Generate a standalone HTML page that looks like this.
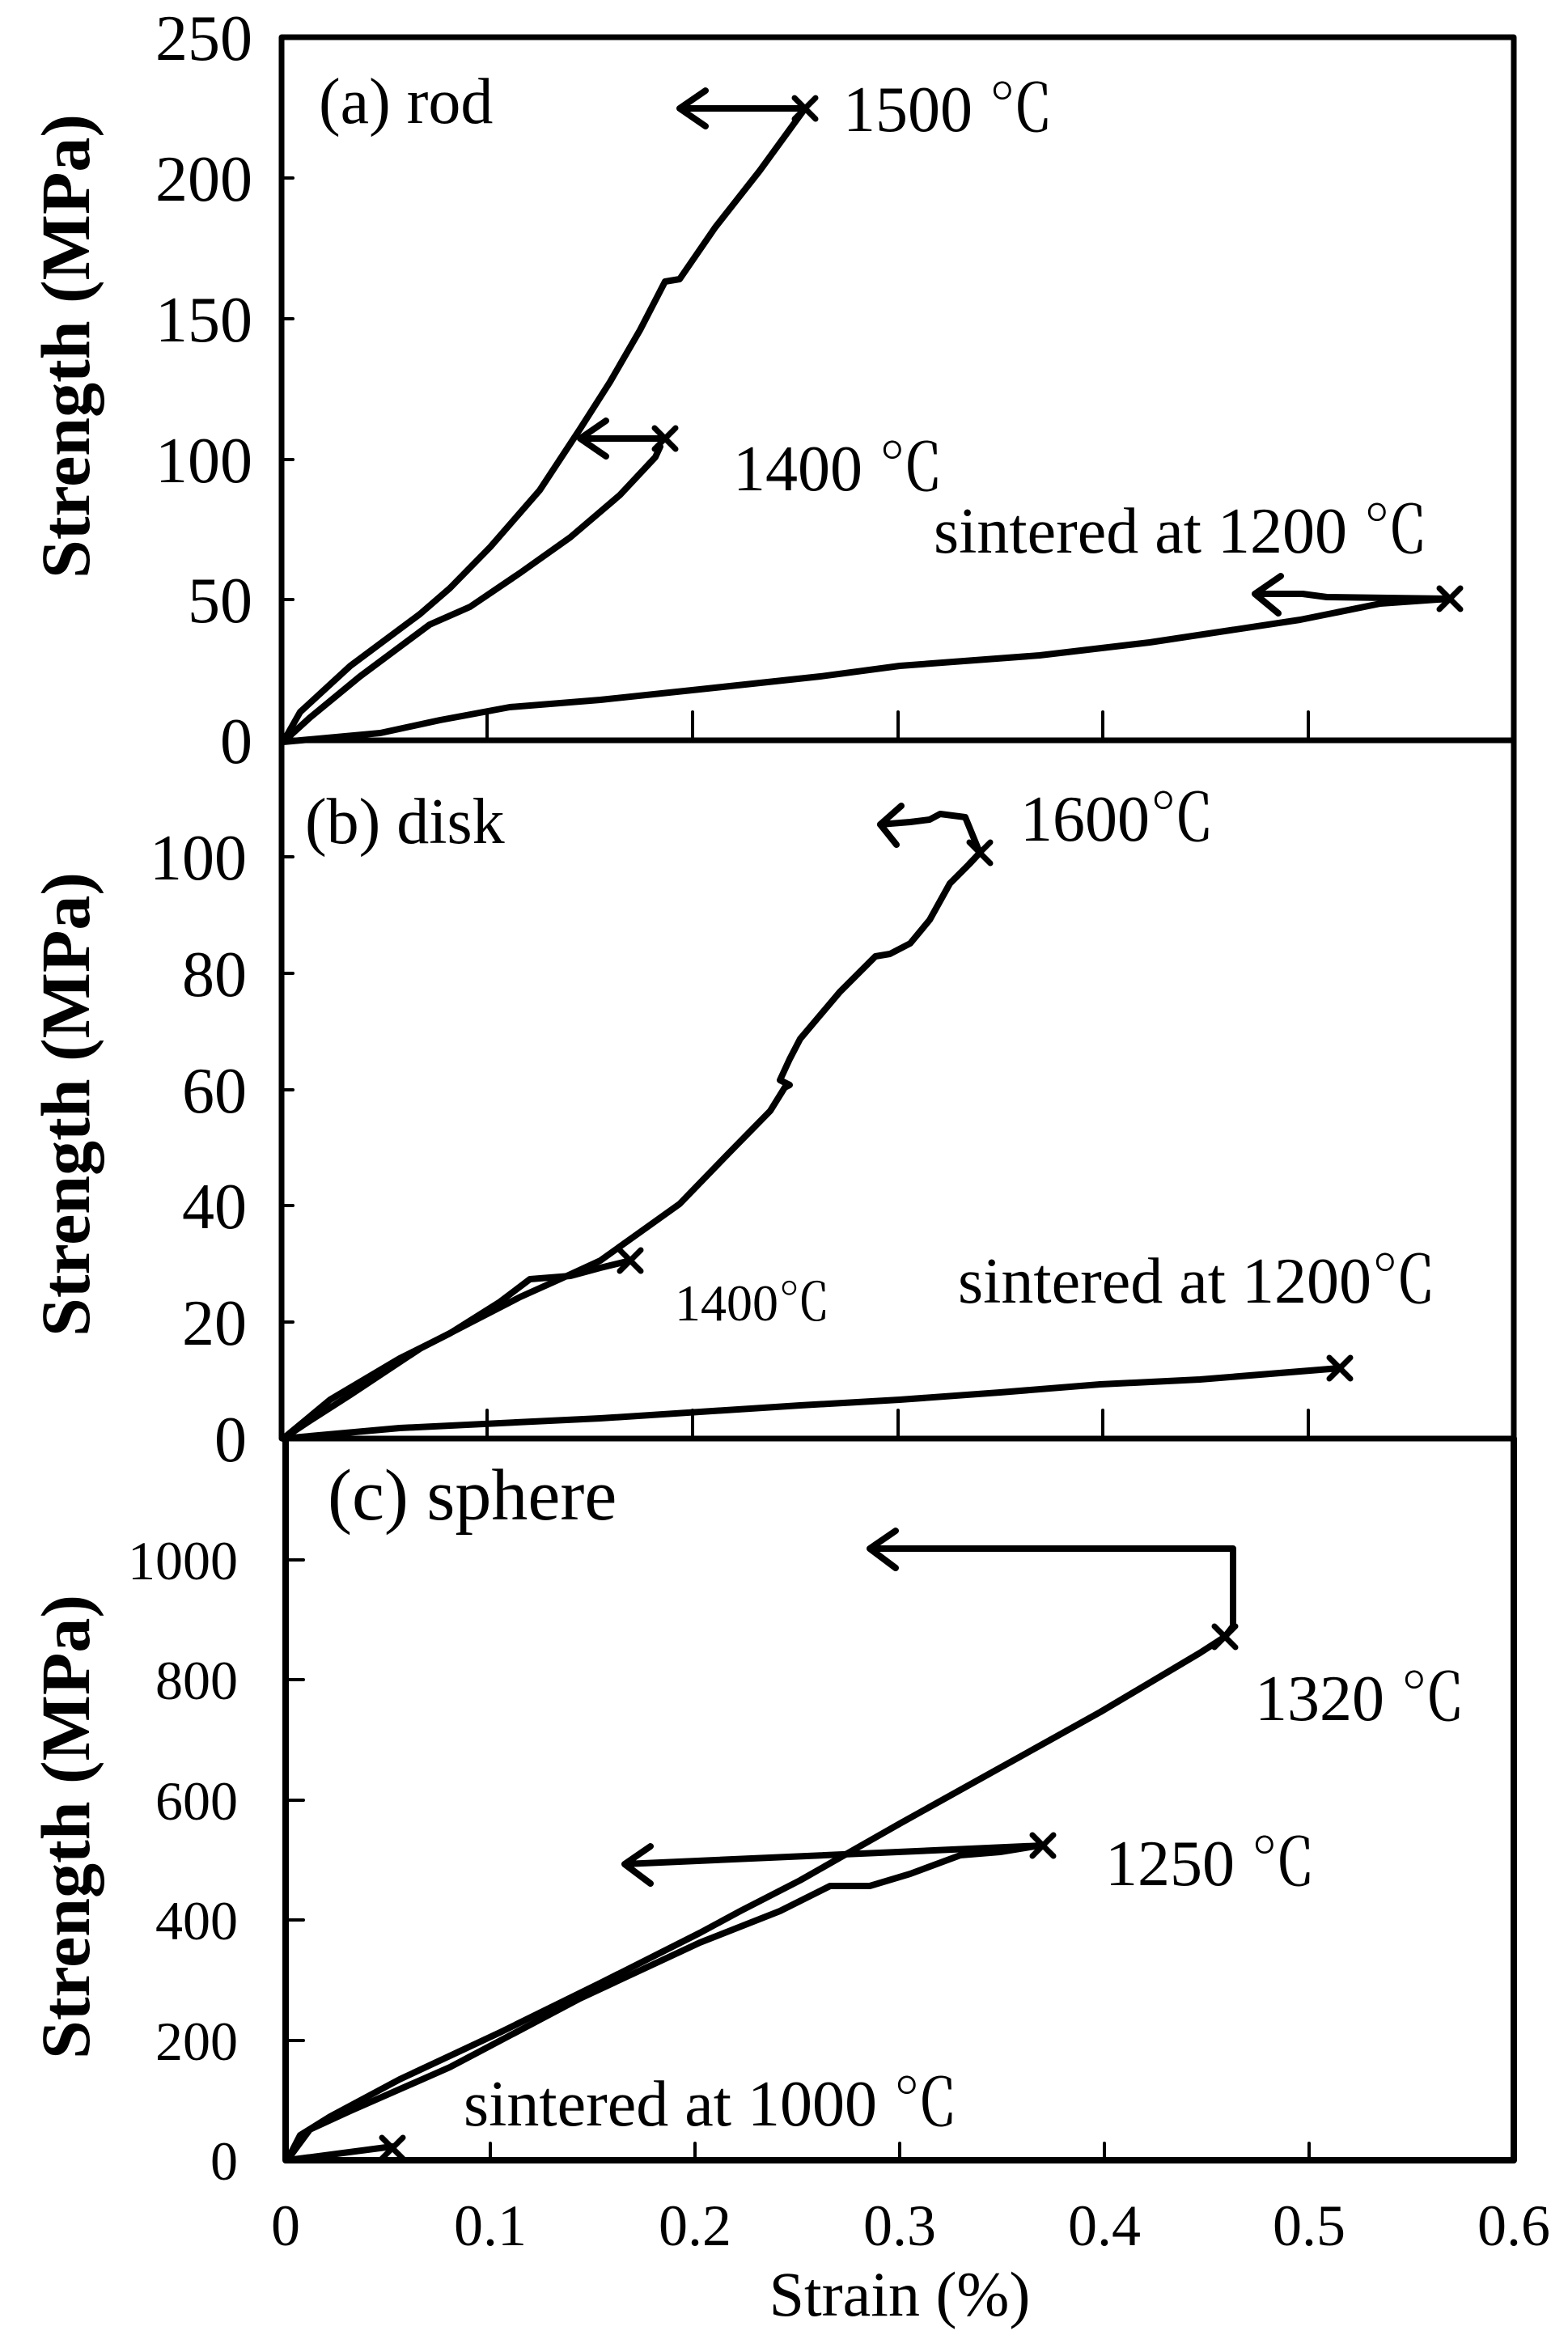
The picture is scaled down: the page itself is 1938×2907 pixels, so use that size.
<!DOCTYPE html>
<html><head><meta charset="utf-8"><style>
html,body{margin:0;padding:0;background:#fff}
svg{display:block}
text{font-family:"Liberation Serif","Noto Serif CJK SC",serif;fill:#000}
.t{font-size:80px}
.yl{font-size:80px;text-anchor:end}
.yc{font-size:68px;text-anchor:end}
.xl{font-size:72px;text-anchor:middle}
.yt{font-size:86px;font-weight:bold;text-anchor:middle}
</style></head><body>
<svg width="1938" height="2907" viewBox="0 0 1938 2907" xmlns="http://www.w3.org/2000/svg">
<g fill="none" stroke="#000" stroke-linejoin="round" stroke-linecap="round">
<rect x="348" y="46" width="1523" height="869" stroke-width="7"/>
<rect x="348" y="915" width="1523" height="863" stroke-width="7"/>
<path d="M353 1778 V2670 H1871 V1778" stroke-width="8"/>
<path d="M348 220H362M348 394H362M348 568H362M348 741H362 M602 915V880M856 915V880M1110 915V880M1363 915V880M1617 915V880" stroke-width="4"/>
<path d="M348 1059H362M348 1203H362M348 1347H362M348 1490H362M348 1634H362 M602 1778V1743M856 1778V1743M1110 1778V1743M1363 1778V1743M1617 1778V1743" stroke-width="4"/>
<path d="M353 1928H375M353 2076H375M353 2225H375M353 2373H375M353 2522H375 M606 2670V2649M859 2670V2649M1112 2670V2649M1365 2670V2649M1618 2670V2649" stroke-width="4"/>
</g>
<g fill="none" stroke="#000" stroke-width="8" stroke-linejoin="round" stroke-linecap="round">
<polyline points="350,917 371,880 433,823 519,759 556,727 606,676 667,606 717,530 754,472 791,408 822,348 840,345 884,281 939,211 995,134"/>
<polyline points="350,917 383,887 445,836 531,772 581,750 643,708 705,664 766,612 810,565 816,552"/>
<polyline points="350,917 470,906 544,890 630,874 742,865 865,852 1014,836 1112,823 1285,810 1421,794 1607,766 1706,746 1792,740"/>
<path d="M995 134H840 M872 112L840 134L872 156"/>
<path d="M822 542H717 M749 520L717 542L749 564"/>
<path d="M1792 740L1640 738L1610 734H1551 M1583 712L1551 734L1580 758"/>
<polyline points="350,1778 383,1756 433,1724 519,1667 581,1635 643,1603 692,1581 742,1558 791,1523 840,1488 902,1424 952,1373 970,1344 976,1341 964,1335 976,1309 989,1284 1038,1226 1082,1182 1100,1179 1125,1166 1149,1137 1174,1092 1199,1067 1211,1054"/>
<polyline points="1211,1054 1193,1010 1162,1006 1149,1013 1125,1016 1088,1019"/>
<path d="M1114 996L1088 1019L1108 1044"/>
<polyline points="350,1778 408,1730 494,1679 556,1648 618,1609 655,1581 705,1577 742,1567 779,1558"/>
<polyline points="350,1778 494,1765 742,1753 989,1737 1112,1730 1236,1721 1360,1711 1483,1705 1656,1691"/>
<polyline points="355,2670 371,2639 408,2616 494,2570 618,2512 742,2451 865,2389 915,2362 989,2324 1112,2254 1236,2185 1360,2116 1483,2043 1514,2023"/>
<path d="M1514 2023L1524 2010V1914H1075 M1107 1892L1075 1914L1107 1938"/>
<polyline points="355,2670 383,2632 433,2609 556,2555 717,2470 865,2401 964,2362 1026,2331 1075,2331 1125,2316 1187,2293 1236,2289 1285,2281"/>
<path d="M1289 2281L772 2304 M804 2282L772 2304L804 2328"/>
<polyline points="355,2670 485,2653"/>
</g>
<g stroke="#000" stroke-width="7" stroke-linecap="round">
<path d="M982 121L1008 147M1008 121L982 147"/>
<path d="M809 529L835 555M835 529L809 555"/>
<path d="M1779 727L1805 753M1805 727L1779 753"/>
<path d="M1198 1041L1224 1067M1224 1041L1198 1067"/>
<path d="M766 1545L792 1571M792 1545L766 1571"/>
<path d="M1643 1678L1669 1704M1669 1678L1643 1704"/>
<path d="M1501 2010L1527 2036M1527 2010L1501 2036"/>
<path d="M1276 2268L1302 2294M1302 2268L1276 2294"/>
<path d="M472 2642L498 2668M498 2642L472 2668"/>
</g>
<text class="yl" x="312" y="74">250</text>
<text class="yl" x="312" y="248">200</text>
<text class="yl" x="312" y="422">150</text>
<text class="yl" x="312" y="596">100</text>
<text class="yl" x="312" y="769">50</text>
<text class="yl" x="312" y="943">0</text>
<text class="yl" x="305" y="1087">100</text>
<text class="yl" x="305" y="1231">80</text>
<text class="yl" x="305" y="1375">60</text>
<text class="yl" x="305" y="1518">40</text>
<text class="yl" x="305" y="1662">20</text>
<text class="yl" x="305" y="1806">0</text>
<text class="yc" x="294" y="1952">1000</text>
<text class="yc" x="294" y="2100">800</text>
<text class="yc" x="294" y="2249">600</text>
<text class="yc" x="294" y="2397">400</text>
<text class="yc" x="294" y="2546">200</text>
<text class="yc" x="294" y="2694">0</text>
<text class="xl" x="353" y="2775">0</text>
<text class="xl" x="606" y="2775">0.1</text>
<text class="xl" x="859" y="2775">0.2</text>
<text class="xl" x="1112" y="2775">0.3</text>
<text class="xl" x="1365" y="2775">0.4</text>
<text class="xl" x="1618" y="2775">0.5</text>
<text class="xl" x="1871" y="2775">0.6</text>
<text x="1112" y="2862" style="font-size:78px;text-anchor:middle">Strain (%)</text>
<text class="yt" transform="translate(110,428) rotate(-90)">Strength (MPa)</text>
<text class="yt" transform="translate(110,1365) rotate(-90)">Strength (MPa)</text>
<text class="yt" transform="translate(110,2258) rotate(-90)">Strength (MPa)</text>
<text class="t" x="394" y="152">(a) rod</text>
<text class="t" x="1042" y="162">1500 ℃</text>
<text class="t" x="906" y="606">1400 ℃</text>
<text class="t" x="1154" y="683">sintered at 1200 ℃</text>
<text class="t" x="377" y="1042">(b) disk</text>
<text class="t" x="1261" y="1039">1600℃</text>
<text x="834" y="1632" style="font-size:64px">1400℃</text>
<text class="t" x="1184" y="1610">sintered at 1200℃</text>
<text x="405" y="1878" style="font-size:90px">(c) sphere</text>
<text class="t" x="1551" y="2126">1320 ℃</text>
<text class="t" x="1366" y="2330">1250 ℃</text>
<text class="t" x="573" y="2627">sintered at 1000 ℃</text>
</svg>
</body></html>
